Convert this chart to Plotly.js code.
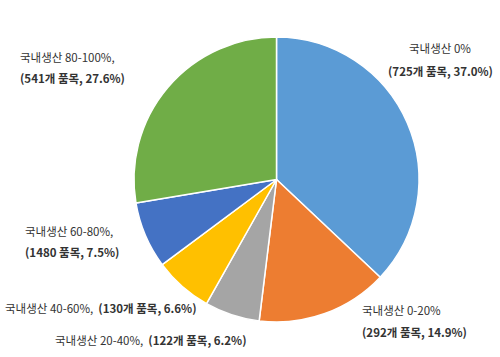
<!DOCTYPE html>
<html>
<head>
<meta charset="utf-8">
<script src="https://cdn.plot.ly/plotly-3.0.1.min.js"></script>
<style>html,body{margin:0;padding:0;background:#fff;}#chart{width:500px;height:357px;}</style>
</head>
<body>
<div id="chart"></div>
<script>
// Data
const categories = ['국내생산 0%', '국내생산 0-20%', '국내생산 20-40%', '국내생산 40-60%', '국내생산 60-80%', '국내생산 80-100%'];
const values = [725, 292, 122, 130, 148, 541];
const detailLabels = ['(725개 품목, 37.0%)', '(292개 품목, 14.9%)', '(122개 품목, 6.2%)', '(130개 품목, 6.6%)', '(1480 품목, 7.5%)', '(541개 품목, 27.6%)'];
const colors = ['#5B9BD5', '#ED7D31', '#A5A5A5', '#FFC000', '#4472C4', '#70AD47'];

// Label layout (pixel positions in the 500x357 canvas): [x, y1, y2(or null for single line)]
const W = 500, H = 357;
const labelPos = [
  [402, 48, 71, 'mid'],
  [360, 310, 332, 'left'],
  [53, 340, null, 'left'],
  [3, 308, null, 'left'],
  [23, 231, 252, 'left'],
  [18, 57, 78, 'left']
];

const font = {family: '"Noto Sans CJK KR", "Noto Sans", sans-serif', size: 11.5, color: '#333'};
const annotations = [];
categories.forEach((c, i) => {
  const p = labelPos[i];
  const px = x => x / W, py = y => 1 - y / H;
  if (p[2] === null) {
    annotations.push({xref: 'paper', yref: 'paper', x: px(p[0]), y: py(p[1]), xanchor: 'left', yanchor: 'middle',
      showarrow: false, align: 'left', font: font, text: c + ',  <b>' + detailLabels[i] + '</b>'});
  } else if (p[3] === 'mid') {
    annotations.push({xref: 'paper', yref: 'paper', x: px(440), y: py(p[1]), xanchor: 'center', yanchor: 'middle',
      showarrow: false, font: font, text: c});
    annotations.push({xref: 'paper', yref: 'paper', x: px(440), y: py(p[2]), xanchor: 'center', yanchor: 'middle',
      showarrow: false, font: font, text: '<b>' + detailLabels[i] + '</b>'});
  } else {
    const suffix = (i === 1) ? '' : ',';
    annotations.push({xref: 'paper', yref: 'paper', x: px(p[0]), y: py(p[1]), xanchor: 'left', yanchor: 'middle',
      showarrow: false, align: 'left', font: font, text: c + suffix});
    annotations.push({xref: 'paper', yref: 'paper', x: px(p[0]), y: py(p[2]), xanchor: 'left', yanchor: 'middle',
      showarrow: false, align: 'left', font: font, text: '<b>' + detailLabels[i] + '</b>'});
  }
});

const cx = 276.5, cy = 179.5, r = 142.5;
const data = [{
  type: 'pie',
  labels: categories,
  values: values,
  sort: false,
  direction: 'clockwise',
  rotation: 0,
  textinfo: 'none',
  hoverinfo: 'label+value+percent',
  marker: {colors: colors, line: {color: '#ffffff', width: 1.5}},
  domain: {x: [(cx - r) / W, (cx + r) / W], y: [1 - (cy + r) / H, 1 - (cy - r) / H]}
}];

const layout = {
  width: W, height: H,
  margin: {l: 0, r: 0, t: 0, b: 0},
  paper_bgcolor: '#ffffff',
  showlegend: false,
  annotations: annotations
};

Plotly.newPlot('chart', data, layout, {displayModeBar: false, staticPlot: true});
</script>
</body>
</html>
